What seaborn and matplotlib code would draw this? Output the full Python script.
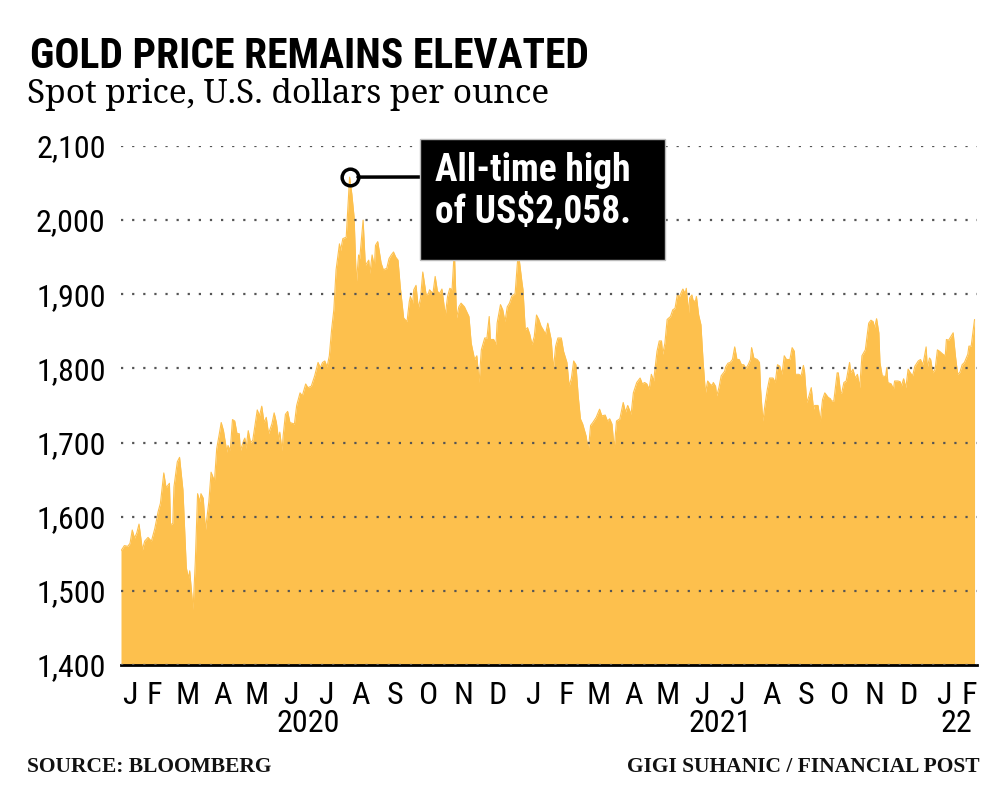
import pandas as pd
import matplotlib.pyplot as plt
import matplotlib.dates as mdates
import matplotlib.patches as mpatches
import matplotlib.ticker as mticker
import matplotlib.transforms as mtransforms
import seaborn as sns

# days counted from 1 Jan 2020 and spot price (US$/oz)
days = [16, 19, 22, 24, 26, 28, 30, 32, 35, 37, 40, 43, 46, 49, 51, 54, 56, 59, 60, 62,
        63, 66, 68, 71, 74, 76, 77, 80, 82, 84, 86, 87, 89, 91, 94, 96, 99, 101, 103, 105,
        107, 110, 111, 113, 115, 117, 119, 121, 122, 125, 126, 127, 129, 131, 133, 135, 137, 139, 141, 143,
        145, 147, 150, 152, 154, 156, 157, 159, 160, 162, 164,
        166, 170, 172, 175, 177, 180, 182, 185, 188, 191, 193, 195, 197, 199, 201, 203, 205, 207, 210, 211,
        213, 216, 218, 219, 221, 223, 225, 227, 228, 231, 232, 233, 236, 237, 239, 241, 242, 244, 247, 249,
        252, 254, 256, 258, 260, 262, 264, 267, 270, 272, 273, 275, 276, 278, 280, 282, 284, 287, 289, 290,
        293, 295, 297, 299, 301, 304, 306, 308, 310, 312, 314, 316, 318,
        321, 325, 327, 330, 332, 334, 336, 339, 341, 343, 344, 347, 349, 350, 353, 355, 357, 359, 361, 363,
        366, 368, 369, 372, 373, 375, 377, 379, 381, 383, 385, 387, 389, 391, 393, 395, 398, 400, 402, 404,
        407, 409, 412, 414, 416, 418, 420, 422, 424, 426, 429, 431, 433, 435, 438, 441, 443, 446, 448, 450,
        452, 454, 456, 459, 462, 464, 466, 469, 471, 474,
        477, 479, 481, 483, 485, 487, 489, 492, 494, 496, 497, 499, 501, 504, 506, 508, 510, 512, 514, 515,
        517, 518, 520, 521, 523, 524, 526, 527, 529, 531, 533, 535, 537, 539, 541, 542, 544, 545, 547, 549,
        552, 553, 555, 557, 559, 561, 563, 565, 567, 569, 571, 573, 575, 576, 578, 581, 583, 584, 586, 588,
        590, 592, 595, 597, 599, 601, 603, 605, 607, 609, 610, 612, 614, 615, 618, 620, 622, 623, 625, 627,
        629, 631,
        632, 635, 637, 639, 641, 644, 646, 647, 649, 652, 653, 655, 656, 658, 660, 663, 664, 666, 668, 670,
        672, 674, 677, 678, 680, 682, 684, 685, 687, 689, 690, 692, 695, 696, 697, 700, 702, 703, 706, 708,
        709, 711, 713, 715, 717, 719, 721, 724, 726, 728, 729, 731, 732, 734, 735, 737, 739, 741, 743, 746,
        748, 749, 751, 753, 755, 757, 759, 761, 763, 765, 768, 769, 771, 773, 774]

prices = [1554, 1561, 1560, 1564, 1582, 1571, 1578, 1590, 1555, 1567, 1572, 1567, 1584, 1607, 1618, 1659, 1639, 1645, 1589, 1591,
          1640, 1674, 1680, 1636, 1531, 1517, 1527, 1475, 1540, 1631, 1620, 1631, 1625, 1582, 1620, 1660, 1648, 1692, 1709, 1727,
          1716, 1687, 1696, 1689, 1731, 1729, 1712, 1712, 1689, 1703, 1706, 1692, 1716, 1700, 1703, 1724, 1744, 1736, 1749, 1727,
          1734, 1712, 1725, 1740, 1727, 1703, 1714, 1689, 1709, 1738, 1742,
          1727, 1725, 1750, 1767, 1763, 1779, 1774, 1776, 1790, 1808, 1801, 1808, 1810, 1802, 1817, 1852, 1879, 1933, 1968, 1959,
          1975, 1977, 2031, 2058, 2035, 2004, 1915, 1953, 1948, 2000, 1968, 1939, 1946, 1928, 1953, 1937, 1966, 1971, 1942, 1933,
          1935, 1948, 1953, 1957, 1950, 1946, 1910, 1868, 1863, 1890, 1897, 1888, 1906, 1912, 1881, 1895, 1930, 1899, 1901, 1906,
          1901, 1924, 1904, 1901, 1907, 1872, 1897, 1908, 1906, 1960, 1868, 1883, 1888,
          1883, 1870, 1834, 1812, 1817, 1781, 1825, 1841, 1841, 1870, 1839, 1839, 1832, 1861, 1886, 1879, 1863, 1883, 1888, 1897,
          1901, 1942, 1955, 1917, 1906, 1852, 1855, 1846, 1832, 1843, 1872, 1866, 1857, 1852, 1846, 1861, 1839, 1799, 1830, 1841,
          1841, 1823, 1808, 1776, 1787, 1810, 1805, 1763, 1732, 1725, 1709, 1689, 1723, 1727, 1734, 1745, 1736, 1737, 1729, 1732,
          1725, 1692, 1729, 1732, 1754, 1741, 1750, 1738, 1767, 1781,
          1787, 1779, 1781, 1779, 1772, 1792, 1783, 1823, 1837, 1837, 1819, 1834, 1866, 1870, 1879, 1881, 1899, 1897, 1904, 1907,
          1901, 1908, 1875, 1895, 1899, 1892, 1890, 1897, 1872, 1859, 1808, 1767, 1783, 1779, 1777, 1781, 1776, 1763, 1774, 1790,
          1796, 1802, 1807, 1808, 1812, 1829, 1812, 1812, 1805, 1805, 1800, 1805, 1812, 1828, 1814, 1812, 1808, 1772, 1729, 1752,
          1772, 1787, 1787, 1781, 1805, 1803, 1792, 1817, 1812, 1812, 1812, 1828, 1823, 1792, 1792, 1790, 1804, 1796, 1754, 1763,
          1774, 1745,
          1750, 1750, 1729, 1758, 1767, 1761, 1759, 1756, 1756, 1794, 1794, 1767, 1767, 1781, 1783, 1808, 1794, 1799, 1787, 1792,
          1774, 1817, 1825, 1837, 1861, 1865, 1863, 1854, 1867, 1848, 1808, 1790, 1789, 1801, 1781, 1779, 1772, 1783, 1783, 1782,
          1776, 1786, 1774, 1799, 1794, 1790, 1803, 1810, 1812, 1805, 1812, 1829, 1801, 1814, 1812, 1794, 1799, 1825, 1823, 1819,
          1817, 1839, 1838, 1843, 1848, 1817, 1792, 1795, 1805, 1808, 1819, 1830, 1830, 1854, 1866]

y_ticks = [1400, 1500, 1600, 1700, 1800, 1900, 2000, 2100]
peak_day = 219
peak_price = 2058
year_labels = ['2020', '2021', '22']
year_dates = ['2020-07-01', '2021-07-02', '2022-01-28']

start = pd.Timestamp('2020-01-01')
df = pd.DataFrame({'date': start + pd.to_timedelta(days, unit='D'), 'price': prices})

sns.set_style('white')
cond = ['Roboto Condensed', 'DejaVu Sans']
serif = ['Noto Serif', 'PT Serif', 'Liberation Serif', 'DejaVu Serif']
serif_bold = ['Liberation Serif', 'DejaVu Serif']
plt.rcParams['font.family'] = cond
plt.rcParams['text.color'] = 'black'
plt.rcParams['xtick.labelcolor'] = 'black'
plt.rcParams['ytick.labelcolor'] = 'black'
gold = '#fdc04d'

fig = plt.figure(figsize=(10, 7.92), dpi=100)
ax = fig.add_axes([0.121, 0.1604, 0.8558, 0.6553])

ax.fill_between(df['date'], 1400, df['price'], color=gold, lw=0, zorder=1)
sns.lineplot(data=df, x='date', y='price', ax=ax, color=gold, lw=0.8, zorder=1)

ax.set_xlim(df['date'].iloc[0], start + pd.Timedelta(days=776))
ax.set_ylim(1400, 2100)
ax.set_xlabel('')
ax.set_ylabel('')

# grid on top of the gold area
ax.set_axisbelow(False)
ax.yaxis.grid(True, color='#555555', linestyle=(0, (1, 4)), lw=1.6)
ax.xaxis.grid(False)
for s in ['left', 'top', 'right']:
    ax.spines[s].set_visible(False)
ax.spines['bottom'].set_linewidth(2)
ax.spines['bottom'].set_color('black')

ax.set_yticks(y_ticks)
ax.yaxis.set_major_formatter(mticker.StrMethodFormatter('{x:,.0f}'))
ax.tick_params(axis='y', labelsize=23, length=3, width=2, pad=8, color='#333333', labelcolor='black')

ax.xaxis.set_major_locator(mdates.MonthLocator())
ax.xaxis.set_minor_locator(mdates.DayLocator())
ax.tick_params(axis='x', which='major', length=20, width=1.2, color='black', labelbottom=False)
ax.tick_params(axis='x', which='minor', length=12, width=0.6, color='#777777')

# month letters centred in the visible part of each month
trans = mtransforms.blended_transform_factory(ax.transData, ax.transAxes)
lo, hi = ax.get_xlim()
for m in pd.date_range('2020-01-01', '2022-02-01', freq='MS'):
    a = max(mdates.date2num(m), lo)
    b = min(mdates.date2num(m + pd.offsets.MonthBegin(1)), hi)
    ax.text((a + b) / 2, -0.058, m.strftime('%b')[0], transform=trans,
            ha='center', va='center', fontsize=23, color='black')
for lab, d in zip(year_labels, year_dates):
    ax.text(mdates.date2num(pd.Timestamp(d)), -0.112, lab, transform=trans,
            ha='center', va='center', fontsize=23, color='black')

# all-time high callout
peak_date = start + pd.Timedelta(days=peak_day)
ax.plot(peak_date, peak_price, 'o', ms=12, mfc='none', mec='black', mew=2.5, zorder=5)
ax.annotate('', xy=(peak_date, peak_price), xycoords='data',
            xytext=(420, 792 - 177), textcoords='figure pixels',
            arrowprops=dict(arrowstyle='-', lw=2.5, color='black', shrinkA=0, shrinkB=6))
fig.patches.append(mpatches.Rectangle((0.420, 1 - 260 / 792), 0.245, 121 / 792,
                                      transform=fig.transFigure, fc='black', ec='#bbbbbb', lw=1))
fig.text(0.435, 1 - 181 / 792, 'All-time high', color='white', fontsize=27,
         fontweight='bold', va='baseline')
fig.text(0.435, 1 - 222 / 792, 'of US$2,058.', color='white', fontsize=27,
         fontweight='bold', va='baseline')

fig.text(0.030, 1 - 68 / 792, 'GOLD PRICE REMAINS ELEVATED', fontsize=30,
         fontweight='bold', va='baseline', color='black')
fig.text(0.027, 1 - 103 / 792, 'Spot price, U.S. dollars per ounce', fontsize=24,
         family=serif, va='baseline', color='black')
fig.text(0.027, 1 - 772 / 792, 'SOURCE: BLOOMBERG', fontsize=15.5,
         fontweight='bold', family=serif_bold, va='baseline', color='#111111')
fig.text(0.980, 1 - 772 / 792, 'GIGI SUHANIC / FINANCIAL POST', fontsize=15.5,
         fontweight='bold', family=serif_bold, va='baseline', ha='right', color='#111111')

fig.savefig('out.png', dpi=100)
